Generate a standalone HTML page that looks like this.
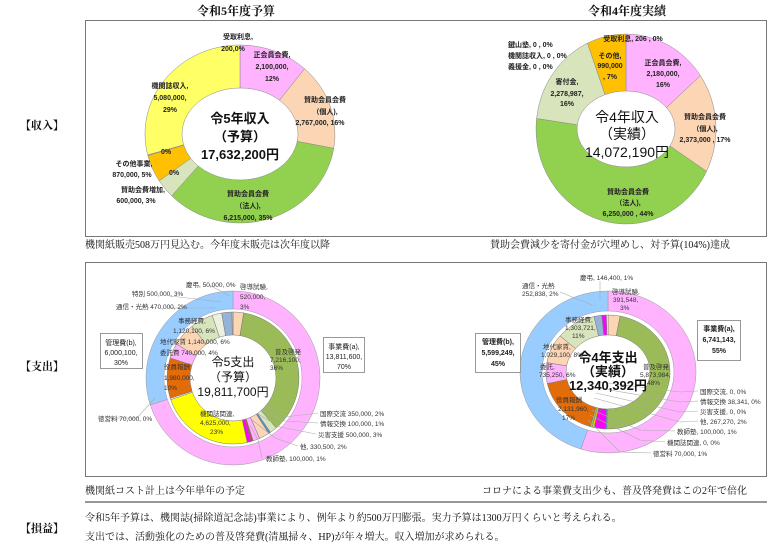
<!DOCTYPE html>
<html><head><meta charset="utf-8">
<style>
html,body{margin:0;padding:0;background:#fff;}
svg{display:block;font-family:"Liberation Sans","Noto Sans CJK JP",sans-serif;}
.t{font-family:"Liberation Serif","Noto Serif CJK SC",serif;}
.s{font-size:7px;fill:#222;text-anchor:middle;}
.sl{font-size:6.5px;fill:#333;}
</style></head><body>
<svg id="g" width="778" height="551" viewBox="0 0 778 551" xmlns="http://www.w3.org/2000/svg">
<rect width="778" height="551" fill="#fff"/>
<g class="t" font-weight="bold" font-size="12" text-anchor="middle" fill="#111">
<text x="236" y="15">令和5年度予算</text>
<text x="627" y="15">令和4年度実績</text>
</g>
<rect x="85.5" y="20.5" width="681" height="216" fill="none" stroke="#777" stroke-width="1"/>
<rect x="85.5" y="262.5" width="681" height="214" fill="none" stroke="#777" stroke-width="1"/>
<line x1="85" y1="502" x2="767" y2="502" stroke="#777" stroke-width="1.5"/>
<g class="t" font-size="11" font-weight="bold" fill="#111">
<text x="20" y="129">【収入】</text>
<text x="20" y="370">【支出】</text>
<text x="20" y="532">【損益】</text>
</g>
<g class="t" font-size="10" fill="#111">
<text x="85" y="248">機関紙販売508万円見込む。今年度末販売は次年度以降</text>
<text x="490" y="248">賛助会費減少を寄付金が穴埋めし、対予算(104%)達成</text>
<text x="85" y="494">機関紙コスト計上は今年単年の予定</text>
<text x="482" y="494">コロナによる事業費支出少も、普及啓発費はこの2年で倍化</text>
<text x="85" y="521">令和5年予算は、機関誌(掃除道記念誌)事業により、例年より約500万円膨張。実力予算は1300万円くらいと考えられる。</text>
<text x="85" y="540">支出では、活動強化のための普及啓発費(清風掃々、HP)が年々増大。収入増加が求められる。</text>
</g>
<g id="d"></g>
<!-- donut1 labels -->
<g class="s" font-weight="bold">
<text x="238" y="39">受取利息,</text><text x="233" y="51">200,0%</text>
<text x="272" y="57">正会員会費,</text><text x="272" y="69">2,100,000,</text><text x="272" y="81">12%</text>
<text x="325" y="102">賛助会員会費</text><text x="325" y="114">（個人),</text><text x="320" y="125">2,767,000, 16%</text>
<text x="170" y="88">機関誌収入,</text><text x="170" y="100">5,080,000,</text><text x="170" y="112">29%</text>
<text x="166" y="154">0%</text><text x="174" y="175">0%</text>
<text x="134" y="166">その他事業,</text><text x="132" y="177">870,000, 5%</text>
<text x="143" y="192">賛助会費増加,</text><text x="136" y="203">600,000, 3%</text>
<text x="248" y="196">賛助会員会費</text><text x="248" y="208">（法人),</text><text x="248" y="220">6,215,000, 35%</text>
</g>
<g font-weight="bold" font-size="13" text-anchor="middle" fill="#111">
<text x="240" y="123">令5年収入</text><text x="240" y="141">（予算）</text><text x="240" y="159">17,632,200円</text>
</g>
<!-- donut2 labels -->
<g class="s" font-weight="bold">
<text x="633" y="41">受取利息, 206 , 0%</text>
<text x="508" y="47" text-anchor="start">鍵山塾, 0 , 0%</text>
<text x="508" y="58" text-anchor="start">機関誌収入, 0 , 0%</text>
<text x="508" y="69" text-anchor="start">義援金, 0 , 0%</text>
<text x="610" y="58">その他,</text><text x="610" y="68">990,000</text><text x="610" y="79">, 7%</text>
<text x="663" y="65">正会員会費,</text><text x="663" y="76">2,180,000,</text><text x="663" y="87">16%</text>
<text x="567" y="84">寄付金,</text><text x="567" y="96">2,278,987,</text><text x="567" y="106">16%</text>
<text x="705" y="119">賛助会員会費</text><text x="705" y="131">（個人),</text><text x="705" y="142">2,373,000 , 17%</text>
<text x="628" y="194">賛助会員会費</text><text x="628" y="205">（法人),</text><text x="628" y="216">6,250,000 , 44%</text>
</g>
<g font-size="14" text-anchor="middle" fill="#111">
<text x="627" y="122">令4年収入</text><text x="627" y="139">（実績）</text><text x="627" y="157">14,072,190円</text>
</g>
<!-- donut3 -->
<g stroke="#aaa" stroke-width="0.6" fill="none">
<polyline points="105,418 137,418 155,398"/>
<polyline points="318,413 285,417 265,405"/>
<polyline points="318,423 285,421 262,410"/>
<polyline points="316,434 280,427 258,414"/>
<polyline points="298,446 275,438 252,420"/>
<polyline points="262,458 258,440 250,425"/>
<polyline points="209,285 230,296"/>
<polyline points="170,296 222,302"/>
<polyline points="170,308 216,308"/>
</g>
<rect x="100.5" y="333.5" width="42" height="35" fill="#fff" stroke="#999"/>
<rect x="323.5" y="337.5" width="41" height="35" fill="#fff" stroke="#999"/>
<g class="s">
<text x="121" y="345">管理費(b),</text><text x="121" y="355">6,000,100,</text><text x="121" y="365">30%</text>
<text x="344" y="349">事業費(a),</text><text x="344" y="359">13,811,600,</text><text x="344" y="369">70%</text>
</g>
<g class="sl">
<text x="186" y="287">慶弔, 50,000, 0%</text>
<text x="132" y="296">特別 500,000, 3%</text>
<text x="116" y="309">通信・光熱 470,000, 2%</text>
<text x="240" y="289">啓導試験,</text><text x="240" y="299">520,000,</text><text x="240" y="309">3%</text>
<text x="178" y="323">事務経費,</text><text x="173" y="333">1,120,100, 6%</text>
<text x="160" y="344">地代家賃 1,140,000, 6%</text>
<text x="160" y="355">委託費 740,000, 4%</text>
<text x="164" y="369">役員報酬</text><text x="164" y="380">1,980,000,</text><text x="164" y="390">10%</text>
<text x="275" y="354">普及啓発</text><text x="270" y="362">7,216,100,</text><text x="270" y="370">36%</text>
<text x="200" y="416">機関誌関連,</text><text x="200" y="425">4,625,000,</text><text x="210" y="434">23%</text>
<text x="320" y="416">国際交流 350,000, 2%</text>
<text x="320" y="426">情報交換 100,000, 1%</text>
<text x="318" y="437">災害支援 500,000, 3%</text>
<text x="300" y="449">他, 330,500, 2%</text>
<text x="266" y="461">教師塾, 100,000, 1%</text>
<text x="98" y="421">徳営料 70,000, 0%</text>
</g>
<g font-size="12" text-anchor="middle" fill="#111">
<text x="233" y="366">令5支出</text><text x="233" y="381">（予算）</text><text x="233" y="396">19,811,700円</text>
</g>
<!-- donut4 -->
<g stroke="#aaa" stroke-width="0.6" fill="none">
<polyline points="698,391 680,392 600,382"/>
<polyline points="698,401 680,402 598,388"/>
<polyline points="698,411 680,412 596,393"/>
<polyline points="698,421 680,422 594,398"/>
<polyline points="675,431 640,430 592,410"/>
<polyline points="665,442 640,440 590,415"/>
<polyline points="651,453 620,452 588,420"/>
<polyline points="560,292 592,305"/>
<polyline points="600,281 600,300"/>
</g>
<rect x="475.5" y="333.5" width="45" height="39" fill="#fff" stroke="#999"/>
<rect x="697.5" y="320.5" width="43" height="40" fill="#fff" stroke="#999"/>
<g class="s" font-weight="bold">
<text x="498" y="344">管理費(b),</text><text x="498" y="355">5,599,249,</text><text x="498" y="366">45%</text>
<text x="719" y="331">事業費(a),</text><text x="719" y="342">6,741,143,</text><text x="719" y="353">55%</text>
</g>
<g class="sl">
<text x="580" y="280">慶弔, 146,400, 1%</text>
<text x="522" y="288">通信・光熱</text><text x="522" y="296">252,838, 2%</text>
<text x="612" y="294">啓導試験,</text><text x="613" y="302">391,548,</text><text x="620" y="310">3%</text>
<text x="565" y="322">事務経費,</text><text x="565" y="330">1,303,721,</text><text x="572" y="338">11%</text>
<text x="543" y="349">地代家賃,</text><text x="541" y="357">1,029,100, 8%</text>
<text x="540" y="369">委託,</text><text x="539" y="377">735,250, 6%</text>
<text x="556" y="402">役員報酬</text><text x="558" y="411">2,131,960,</text><text x="562" y="420">17%</text>
<text x="643" y="369">普及啓発</text><text x="640" y="377">5,873,984,</text><text x="647" y="385">48%</text>
<text x="700" y="394">国際交流, 0, 0%</text>
<text x="700" y="404">情報交換 38,341, 0%</text>
<text x="700" y="414">災害支援, 0, 0%</text>
<text x="700" y="424">他, 267,270, 2%</text>
<text x="677" y="434">教師塾, 100,000, 1%</text>
<text x="667" y="445">機関誌関連, 0, 0%</text>
<text x="653" y="456">徳営料 70,000, 1%</text>
</g>
<g font-size="13" font-weight="bold" text-anchor="middle" fill="#111">
<text x="608" y="362">令4年支出</text><text x="608" y="376">（実績）</text><text x="608" y="390">12,340,392円</text>
</g>
</svg>
<script>
var G=document.getElementById('d');
function pt(cx,cy,rx,ry,f){var a=f*2*Math.PI;return [cx+rx*Math.sin(a),cy-ry*Math.cos(a)];}
function donut(cx,cy,R,Ry,r,ry,items,stroke){
 var tot=0;items.forEach(function(i){tot+=i[0];});
 var acc=0;var h='';
 items.forEach(function(i){
  var f0=acc/tot,f1=(acc+i[0])/tot;acc+=i[0];
  var L=(f1-f0)>0.5?1:0;
  var a=pt(cx,cy,R,Ry,f0),b=pt(cx,cy,R,Ry,f1),c=pt(cx,cy,r,ry,f1),d=pt(cx,cy,r,ry,f0);
  h+='<path d="M'+a+' A'+R+' '+Ry+' 0 '+L+' 1 '+b+' L'+c+' A'+r+' '+ry+' 0 '+L+' 0 '+d+' Z" fill="'+i[1]+'" stroke="'+stroke+'" stroke-width="0.5"/>';
 });
 G.insertAdjacentHTML('beforeend',h);
}
var PK='#ffb3ff',PE='#fcd5b4',GR='#92d050',LG='#d8e4bc',OR='#ffc000',YE='#ffff66';
donut(240,134,95,89,58,46,[[0.05,'#fff'],[2100000,PK],[2767000,PE],[6215000,GR],[600000,LG],[870000,OR],[20000,'#ccc'],[5080000,YE]],'#888');
donut(626,129,90,95,49,38,[[2180000,PK],[2373000,PE],[6250000,GR],[2278987,LG],[990000,OR]],'#888');
// expenses
var BL='#99ccff',G2='#9bbb59',OR2='#e26b0a',MG='#ff00ff';
donut(233,378,87,87,69,69,[[70,PK],[30,BL]],'#999');
donut(233,378,66,66,43,43,[[520000,PE],[7216100,G2],[350000,LG],[100000,'#558ed5'],[500000,PE],[330500,PK],[100000,'#c0504d'],[200000,MG],[4625000,'#ffff00'],[70000,'#fff'],[1980000,OR2],[740000,PK],[1140000,PE],[1120100,LG],[470000,'#ebf1de'],[500000,'#95b3d7'],[50000,'#ddd']],'#777');
donut(608,372,88,81,66,61,[[55,PK],[45,BL]],'#999');
donut(608,372,62,57,42,37,[[391548,PE],[5873984,G2],[38341,'#558ed5'],[267270,MG],[100000,MG],[70000,OR],[60000,GR],[2131960,OR2],[735250,PK],[1029100,PE],[1303721,LG],[252838,'#95b3d7'],[146400,MG],[50000,'#fff']],'#777');
</script>
</body></html>
